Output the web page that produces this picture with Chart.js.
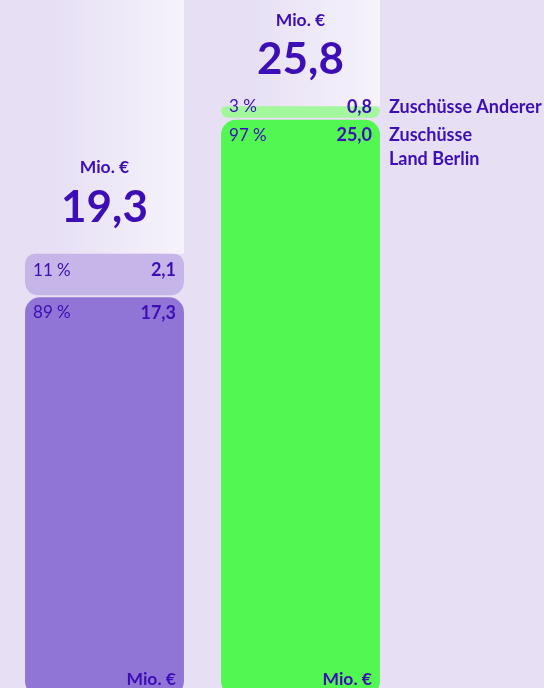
<!DOCTYPE html>
<html lang="de">
<head>
<meta charset="utf-8">
<title>Zuschüsse</title>
<script src="https://cdn.jsdelivr.net/npm/chart.js@4"></script>
<style>
  html, body { margin:0; padding:0; background:#E7E0F5; overflow:hidden; }
  #wrap { width:544px; height:688px; overflow:hidden; }
  canvas { display:block; }
</style>
</head>
<body>
<div id="wrap"><canvas id="c" width="544" height="699"></canvas></div>
<script>
// ── Data ───────────────────────────────────
const categories  = ['Spalte 1', 'Spalte 2'];
const totals      = [19.3, 25.8];
const landBerlin  = [17.3, 25.0];
const andere      = [2.1, 0.8];
const pctLand     = [89, 97];
const pctAndere   = [11, 3];
const unitLabel   = 'Mio. €';
const labelAndere = ['Zuschüsse Anderer'];
const labelLand   = ['Zuschüsse', 'Land Berlin'];

// ── Styles ─────────────────────────────────
const BG      = '#E7E0F5';
const INK     = '#3D0EB6';
const DARK    = ['#9175D6', '#52F752'];
const LIGHT   = ['#C6B5E8', '#A3F89D'];
const FONT    = 'Lato, "Noto Sans", sans-serif';
const GAP_TOP = 5;
const R       = 15;
const allCorners = r => ({ topLeft: r, topRight: r, bottomLeft: r, bottomRight: r });

const fmt = v => v.toFixed(1).replace('.', ',');
const pct = v => v + '\u202F%';

// column strips + labels
const decor = {
    id: 'decor',
    beforeDatasetsDraw(chart) {
        const ctx = chart.ctx;
        const top = chart.getDatasetMeta(1).data;
        let prevRight = 0;
        top.forEach(el => {
            const right = el.x + el.width / 2;
            const yTop  = el.y + GAP_TOP;
            const g = ctx.createLinearGradient(right - 196, 0, right, 0);
            g.addColorStop(0, BG);
            g.addColorStop(0.35, BG);
            g.addColorStop(1, '#F6F3FB');
            ctx.fillStyle = g;
            ctx.fillRect(prevRight, 0, right - prevRight, yTop);
            prevRight = right;
        });
    },
    afterDatasetsDraw(chart) {
        const ctx = chart.ctx;
        const low  = chart.getDatasetMeta(0).data;
        const high = chart.getDatasetMeta(1).data;
        ctx.save();
        ctx.textBaseline = 'middle';
        ctx.fillStyle = INK;
        low.forEach((el, i) => {
            const l = el.x - el.width / 2, r = el.x + el.width / 2;
            const hTop  = high[i].y + GAP_TOP;
            const yLow  = el.y + 15.5;
            const yHigh = Math.min(hTop + 16.5, yLow - 28.5);

            // totals above stack
            ctx.textAlign = 'center';
            ctx.font = `bold 17.5px ${FONT}`;
            ctx.fillText(unitLabel, el.x, hTop - 86);
            ctx.font = `bold 44px ${FONT}`;
            ctx.fillText(fmt(totals[i]), el.x, hTop - 46);

            // segment rows
            ctx.textAlign = 'left';
            ctx.font = `17px ${FONT}`;
            ctx.fillText(pct(pctAndere[i]), l + 8, yHigh);
            ctx.fillText(pct(pctLand[i]), l + 8, yLow);
            ctx.textAlign = 'right';
            ctx.font = `bold 18px ${FONT}`;
            ctx.fillText(fmt(andere[i]), r - 8, yHigh);
            ctx.fillText(fmt(landBerlin[i]), r - 8, yLow);

            // unit at foot
            ctx.font = `bold 17.5px ${FONT}`;
            ctx.fillText(unitLabel, r - 8, 679);

            // series names next to last column
            if (i === low.length - 1) {
                ctx.textAlign = 'left';
                ctx.font = `bold 18px ${FONT}`;
                labelAndere.forEach((t, k) => ctx.fillText(t, r + 9, yHigh + k * 24));
                labelLand.forEach((t, k) => ctx.fillText(t, r + 9, yLow + k * 24));
            }
        });
        ctx.restore();
    }
};

new Chart(document.getElementById('c'), {
    type: 'bar',
    data: {
        labels: categories,
        datasets: [
            {
                label: labelLand.join(' '),
                data: landBerlin,
                backgroundColor: DARK,
                borderRadius: allCorners(R),
                borderSkipped: false,
                borderWidth: 0,
            },
            {
                label: labelAndere.join(' '),
                data: andere,
                backgroundColor: LIGHT,
                borderColor: 'rgba(0,0,0,0)',
                borderWidth: { top: GAP_TOP, bottom: 2, left: 0, right: 0 },
                borderRadius: allCorners(R),
                borderSkipped: false,
            },
        ],
    },
    options: {
        responsive: false,
        animation: false,
        events: [],
        layout: { padding: { left: 6.5, right: 145.5, top: 4.5, bottom: 3 } },
        datasets: { bar: { barPercentage: 0.811, categoryPercentage: 1 } },
        plugins: { legend: { display: false }, tooltip: { enabled: false } },
        scales: {
            x: { stacked: true, display: false },
            y: { stacked: true, display: false, min: 0, max: 30 },
        },
    },
    plugins: [decor],
});
</script>
</body>
</html>
